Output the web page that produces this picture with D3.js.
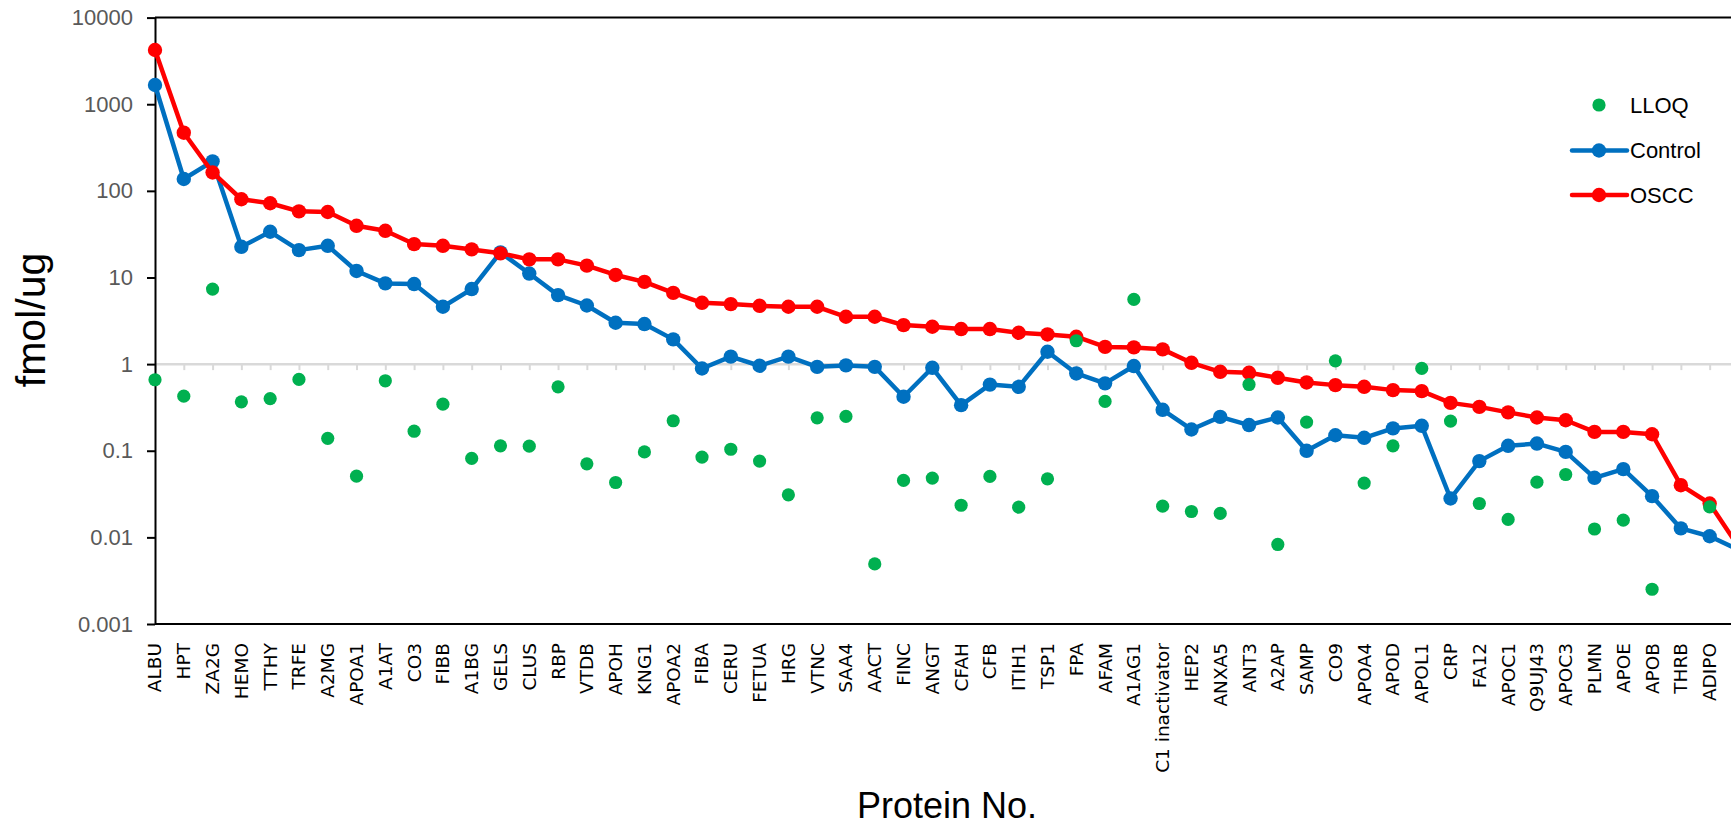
<!DOCTYPE html>
<html><head><meta charset="utf-8">
<script src="https://cdn.jsdelivr.net/npm/d3@7"></script>
<style>html,body{margin:0;padding:0;background:#fff;overflow:hidden}</style>
</head><body><svg id="chart" width="1731" height="829"></svg>
<script>
// Categories (the last one lies beyond the picture's right edge)
const categories = ["ALBU","HPT","ZA2G","HEMO","TTHY","TRFE","A2MG","APOA1","A1AT","CO3","FIBB","A1BG","GELS","CLUS","RBP","VTDB","APOH","KNG1","APOA2","FIBA","CERU","FETUA","HRG","VTNC","SAA4","AACT","FINC","ANGT","CFAH","CFB","ITIH1","TSP1","FPA","AFAM","A1AG1","C1 inactivator","HEP2","ANXA5","ANT3","A2AP","SAMP","CO9","APOA4","APOD","APOL1","CRP","FA12","APOC1","Q9UJ43","APOC3","PLMN","APOE","APOB","THRB","ADIPO",""];
const control = [1667,137,219,22.6,33.7,20.7,23.2,11.9,8.55,8.4,4.59,7.35,19.5,11.1,6.26,4.75,3.0,2.9,1.93,0.89,1.22,0.957,1.22,0.93,0.966,0.93,0.42,0.907,0.336,0.58,0.547,1.39,0.78,0.60,0.95,0.297,0.176,0.246,0.198,0.242,0.0998,0.151,0.141,0.181,0.194,0.0281,0.0759,0.114,0.121,0.097,0.0487,0.0613,0.0299,0.0127,0.0103,0.0072];
const oscc = [4227,469,163,80,72,58,57,39.5,34.6,24.3,23.2,21.1,19,16.2,16.2,13.7,10.7,8.9,6.65,5.1,4.93,4.71,4.59,4.59,3.52,3.52,2.82,2.70,2.54,2.54,2.30,2.20,2.07,1.58,1.56,1.48,1.035,0.815,0.794,0.695,0.614,0.572,0.547,0.501,0.488,0.357,0.321,0.277,0.242,0.225,0.165,0.165,0.155,0.040,0.0246,0.0078];
const lloq = [0.66,0.427,7.35,0.367,0.40,0.666,0.139,0.0509,0.642,0.168,0.345,0.0815,0.114,0.113,0.547,0.0706,0.043,0.097,0.222,0.0844,0.104,0.0759,0.031,0.24,0.249,0.00494,0.0454,0.0483,0.0235,0.0505,0.0223,0.0474,1.86,0.371,5.58,0.0229,0.0199,0.0189,0.582,0.00828,0.214,1.09,0.0423,0.114,0.892,0.22,0.0246,0.0161,0.0434,0.0532,0.0125,0.0158,0.00252,null,0.0225,null];
const yTicks = [0.001,0.01,0.1,1,10,100,1000,10000];
const yTickLabels = ["0.001","0.01","0.1","1","10","100","1000","10000"];
const legendItems = ["LLOQ","Control","OSCC"];
const colors = {LLOQ:"#00B050", Control:"#0070C0", OSCC:"#FF0000"};

(function(){
const svg = d3.select("#chart");
const plotLeft = 155, plotTop = 17.6, plotBottom = 624, step = 28.79;
const x = d3.scalePoint().domain(categories).range([plotLeft, plotLeft + step*(categories.length-1)]).padding(0);
const y = d3.scaleLog().domain([0.001, 10000]).range([plotBottom, plotTop]);
const rightEdge = 1760;

// Top and bottom plot borders
svg.append("line").attr("x1",plotLeft).attr("x2",rightEdge).attr("y1",y(10000)).attr("y2",y(10000))
  .attr("stroke","#000").attr("stroke-width",2);
svg.append("line").attr("x1",plotLeft).attr("x2",rightEdge).attr("y1",y(0.001)).attr("y2",y(0.001))
  .attr("stroke","#000").attr("stroke-width",2);

// Category axis crossing at 1 (grey)
const xAxis = svg.append("g").attr("transform",`translate(0,${y(1)})`)
  .call(d3.axisBottom(x).tickSize(6).tickSizeOuter(0).tickFormat(""));
xAxis.select(".domain").attr("stroke","#d9d9d9").attr("stroke-width",2);
xAxis.selectAll(".tick line").attr("stroke","#d9d9d9").attr("stroke-width",2);
svg.append("line").attr("x1",plotLeft).attr("x2",rightEdge).attr("y1",y(1)).attr("y2",y(1))
  .attr("stroke","#d9d9d9").attr("stroke-width",2);

// Category labels at the bottom
svg.append("g").selectAll("text").data(categories).join("text")
  .attr("transform", d => `translate(${x(d)},643) rotate(-90)`)
  .attr("text-anchor","end").attr("dy","0.35em")
  .style("font-family","'DejaVu Sans', sans-serif").style("font-size","18.5px").attr("fill","#000")
  .text(d => d);

// Value axis
const yAxis = svg.append("g").attr("transform",`translate(${plotLeft},0)`)
  .call(d3.axisLeft(y).tickValues(yTicks).tickFormat((d,i)=>yTickLabels[i]).tickSize(8).tickSizeOuter(0).tickPadding(14));
yAxis.select(".domain").attr("stroke","#000").attr("stroke-width",2);
yAxis.selectAll(".tick line").attr("stroke","#000").attr("stroke-width",2);
yAxis.selectAll(".tick text").style("font-family","'Liberation Sans', Arial, sans-serif").style("font-size","22px").attr("fill","#595959");

// Series
const line = d3.line().x((d,i)=>x(categories[i])).y(d=>y(d));
function drawSeries(vals, color){
  svg.append("path").datum(vals).attr("d", line).attr("fill","none")
    .attr("stroke",color).attr("stroke-width",4.5).attr("stroke-linejoin","round");
  svg.append("g").selectAll("circle").data(vals).join("circle")
    .attr("cx",(d,i)=>x(categories[i])).attr("cy",d=>y(d)).attr("r",7.2).attr("fill",color);
}
drawSeries(control, colors.Control);
drawSeries(oscc, colors.OSCC);
svg.append("g").selectAll("circle").data(lloq.map((v,i)=>({v,c:categories[i]})).filter(d=>d.v!=null)).join("circle")
  .attr("cx",d=>x(d.c)).attr("cy",d=>y(d.v)).attr("r",6.6).attr("fill",colors.LLOQ);

// Axis titles
svg.append("text").attr("transform","translate(45,320) rotate(-90)").attr("text-anchor","middle")
  .style("font-family","'Liberation Sans', Arial, sans-serif").style("font-size","41px").attr("fill","#000").text("fmol/ug");
svg.append("text").attr("x",947).attr("y",818).attr("text-anchor","middle")
  .style("font-family","'Liberation Sans', Arial, sans-serif").style("font-size","36px").attr("fill","#000").text("Protein No.");

// Legend
const lg = svg.append("g");
const ly = [105, 150.5, 195];
legendItems.forEach((name,i)=>{
  const g = lg.append("g").attr("transform",`translate(0,${ly[i]})`);
  if(name !== "LLOQ"){
    g.append("line").attr("x1",1572).attr("x2",1627).attr("y1",0).attr("y2",0)
      .attr("stroke",colors[name]).attr("stroke-width",4.5).attr("stroke-linecap","round");
    g.append("circle").attr("cx",1599).attr("cy",0).attr("r",7.2).attr("fill",colors[name]);
  } else {
    g.append("circle").attr("cx",1599).attr("cy",0).attr("r",6.6).attr("fill",colors[name]);
  }
  g.append("text").attr("x",1630).attr("y",0).attr("dy","0.35em")
    .style("font-family","'Liberation Sans', Arial, sans-serif").style("font-size","22px").attr("fill","#000").text(name);
});
})();
</script></body></html>
